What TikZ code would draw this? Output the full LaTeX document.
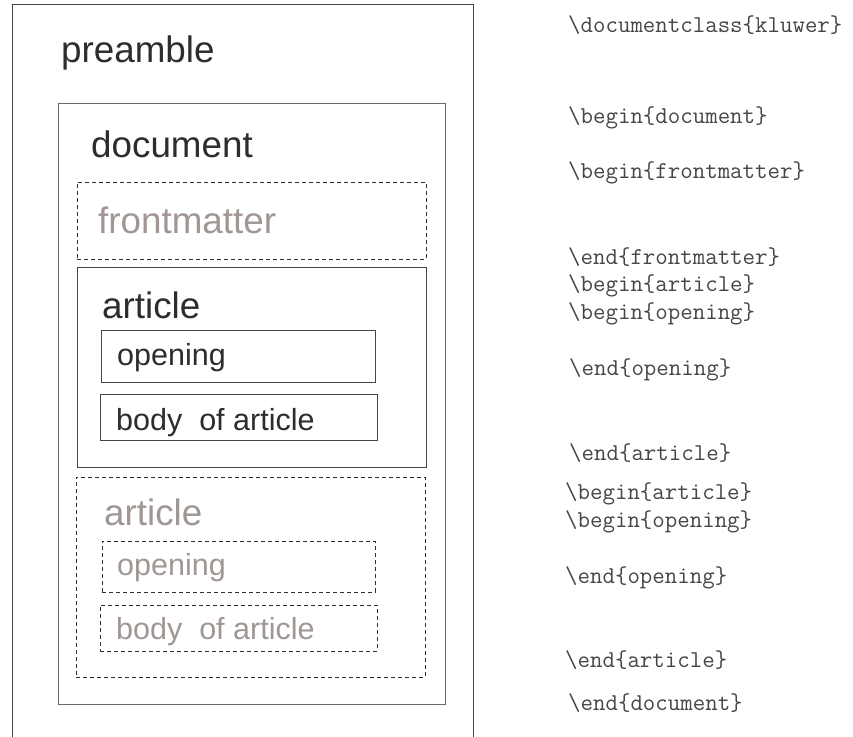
\documentclass[tikz,border=0pt]{standalone}
\usepackage{fontspec}
\setmainfont{Liberation Sans}
\definecolor{dark}{RGB}{45,45,48}
\definecolor{pale}{RGB}{160,150,148}
\definecolor{code}{RGB}{70,70,70}
\definecolor{frame}{RGB}{70,70,70}
\tikzset{
  solidbox/.style={draw=frame, line width=1.2pt, inner sep=0pt, anchor=north west},
  thinbox/.style={draw=frame!80, line width=0.9pt, inner sep=0pt, anchor=north west},
  dashbox/.style={draw=dark, line width=0.9pt, dash pattern=on 4pt off 3pt, inner sep=0pt, anchor=north west},
  biglabel/.style={anchor=base west, inner sep=0pt, font=\fontsize{36.8}{40}\selectfont},
  smalllabel/.style={anchor=base west, inner sep=0pt, font=\fontsize{30.5}{34}\selectfont},
  codeline/.style={anchor=base west, inner sep=0pt, text=code, font=\ttfamily\fontsize{24.2}{26}\selectfont}
}
\begin{document}
\begin{tikzpicture}[x=1pt,y=-1pt]
\clip (0,0) rectangle (853,736);
\fill[white] (0,0) rectangle (853,736);
% outer preamble box (extends below picture)
\node[solidbox, minimum width=461pt, minimum height=760pt] (pre) at (12,4) {};
\node[biglabel, text=dark] (pretext) at (61,62) {preamble};
% document box
\node[thinbox, minimum width=387pt, minimum height=601pt] (doc) at (58,103) {};
\node[biglabel, text=dark] (doctext) at (91,157) {document};
% frontmatter
\node[dashbox, minimum width=349pt, minimum height=77pt] (front) at (77,182) {};
\node[biglabel, text=pale] (fronttext) at (98,233) {frontmatter};
% article 1
\node[solidbox, minimum width=349pt, minimum height=200pt] (art1) at (77,267) {};
\node[biglabel, text=dark] (art1text) at (102,318) {article};
\node[solidbox, minimum width=274pt, minimum height=52pt] (open1) at (101,330) {};
\node[smalllabel, text=dark] (open1text) at (117,365) {opening};
\node[solidbox, minimum width=277pt, minimum height=46pt] (body1) at (100,394) {};
\node[smalllabel, text=dark] (body1text) at (116,430) {body\ \ of article};
% article 2
\node[dashbox, minimum width=349pt, minimum height=200pt] (art2) at (76,477) {};
\node[biglabel, text=pale] (art2text) at (104,525) {article};
\node[dashbox, minimum width=273pt, minimum height=51pt] (open2) at (102,541) {};
\node[smalllabel, text=pale] (open2text) at (117,575) {opening};
\node[dashbox, minimum width=277pt, minimum height=46pt] (body2) at (100,605) {};
\node[smalllabel, text=pale] (body2text) at (116,639) {body\ \ of article};
% code lines
\node[codeline] (c1) at (568,32) {\textbackslash documentclass\{kluwer\}};
\node[codeline] (c2) at (568,123) {\textbackslash begin\{document\}};
\node[codeline] (c3) at (568,178) {\textbackslash begin\{frontmatter\}};
\node[codeline] (c4) at (568,264) {\textbackslash end\{frontmatter\}};
\node[codeline] (c5) at (568,291) {\textbackslash begin\{article\}};
\node[codeline] (c6) at (568,319) {\textbackslash begin\{opening\}};
\node[codeline] (c7) at (569,375) {\textbackslash end\{opening\}};
\node[codeline] (c8) at (569,460) {\textbackslash end\{article\}};
\node[codeline] (c9) at (565,499) {\textbackslash begin\{article\}};
\node[codeline] (c10) at (565,527) {\textbackslash begin\{opening\}};
\node[codeline] (c11) at (565,583) {\textbackslash end\{opening\}};
\node[codeline] (c12) at (565,667) {\textbackslash end\{article\}};
\node[codeline] (c13) at (568,710) {\textbackslash end\{document\}};
\end{tikzpicture}
\end{document}
